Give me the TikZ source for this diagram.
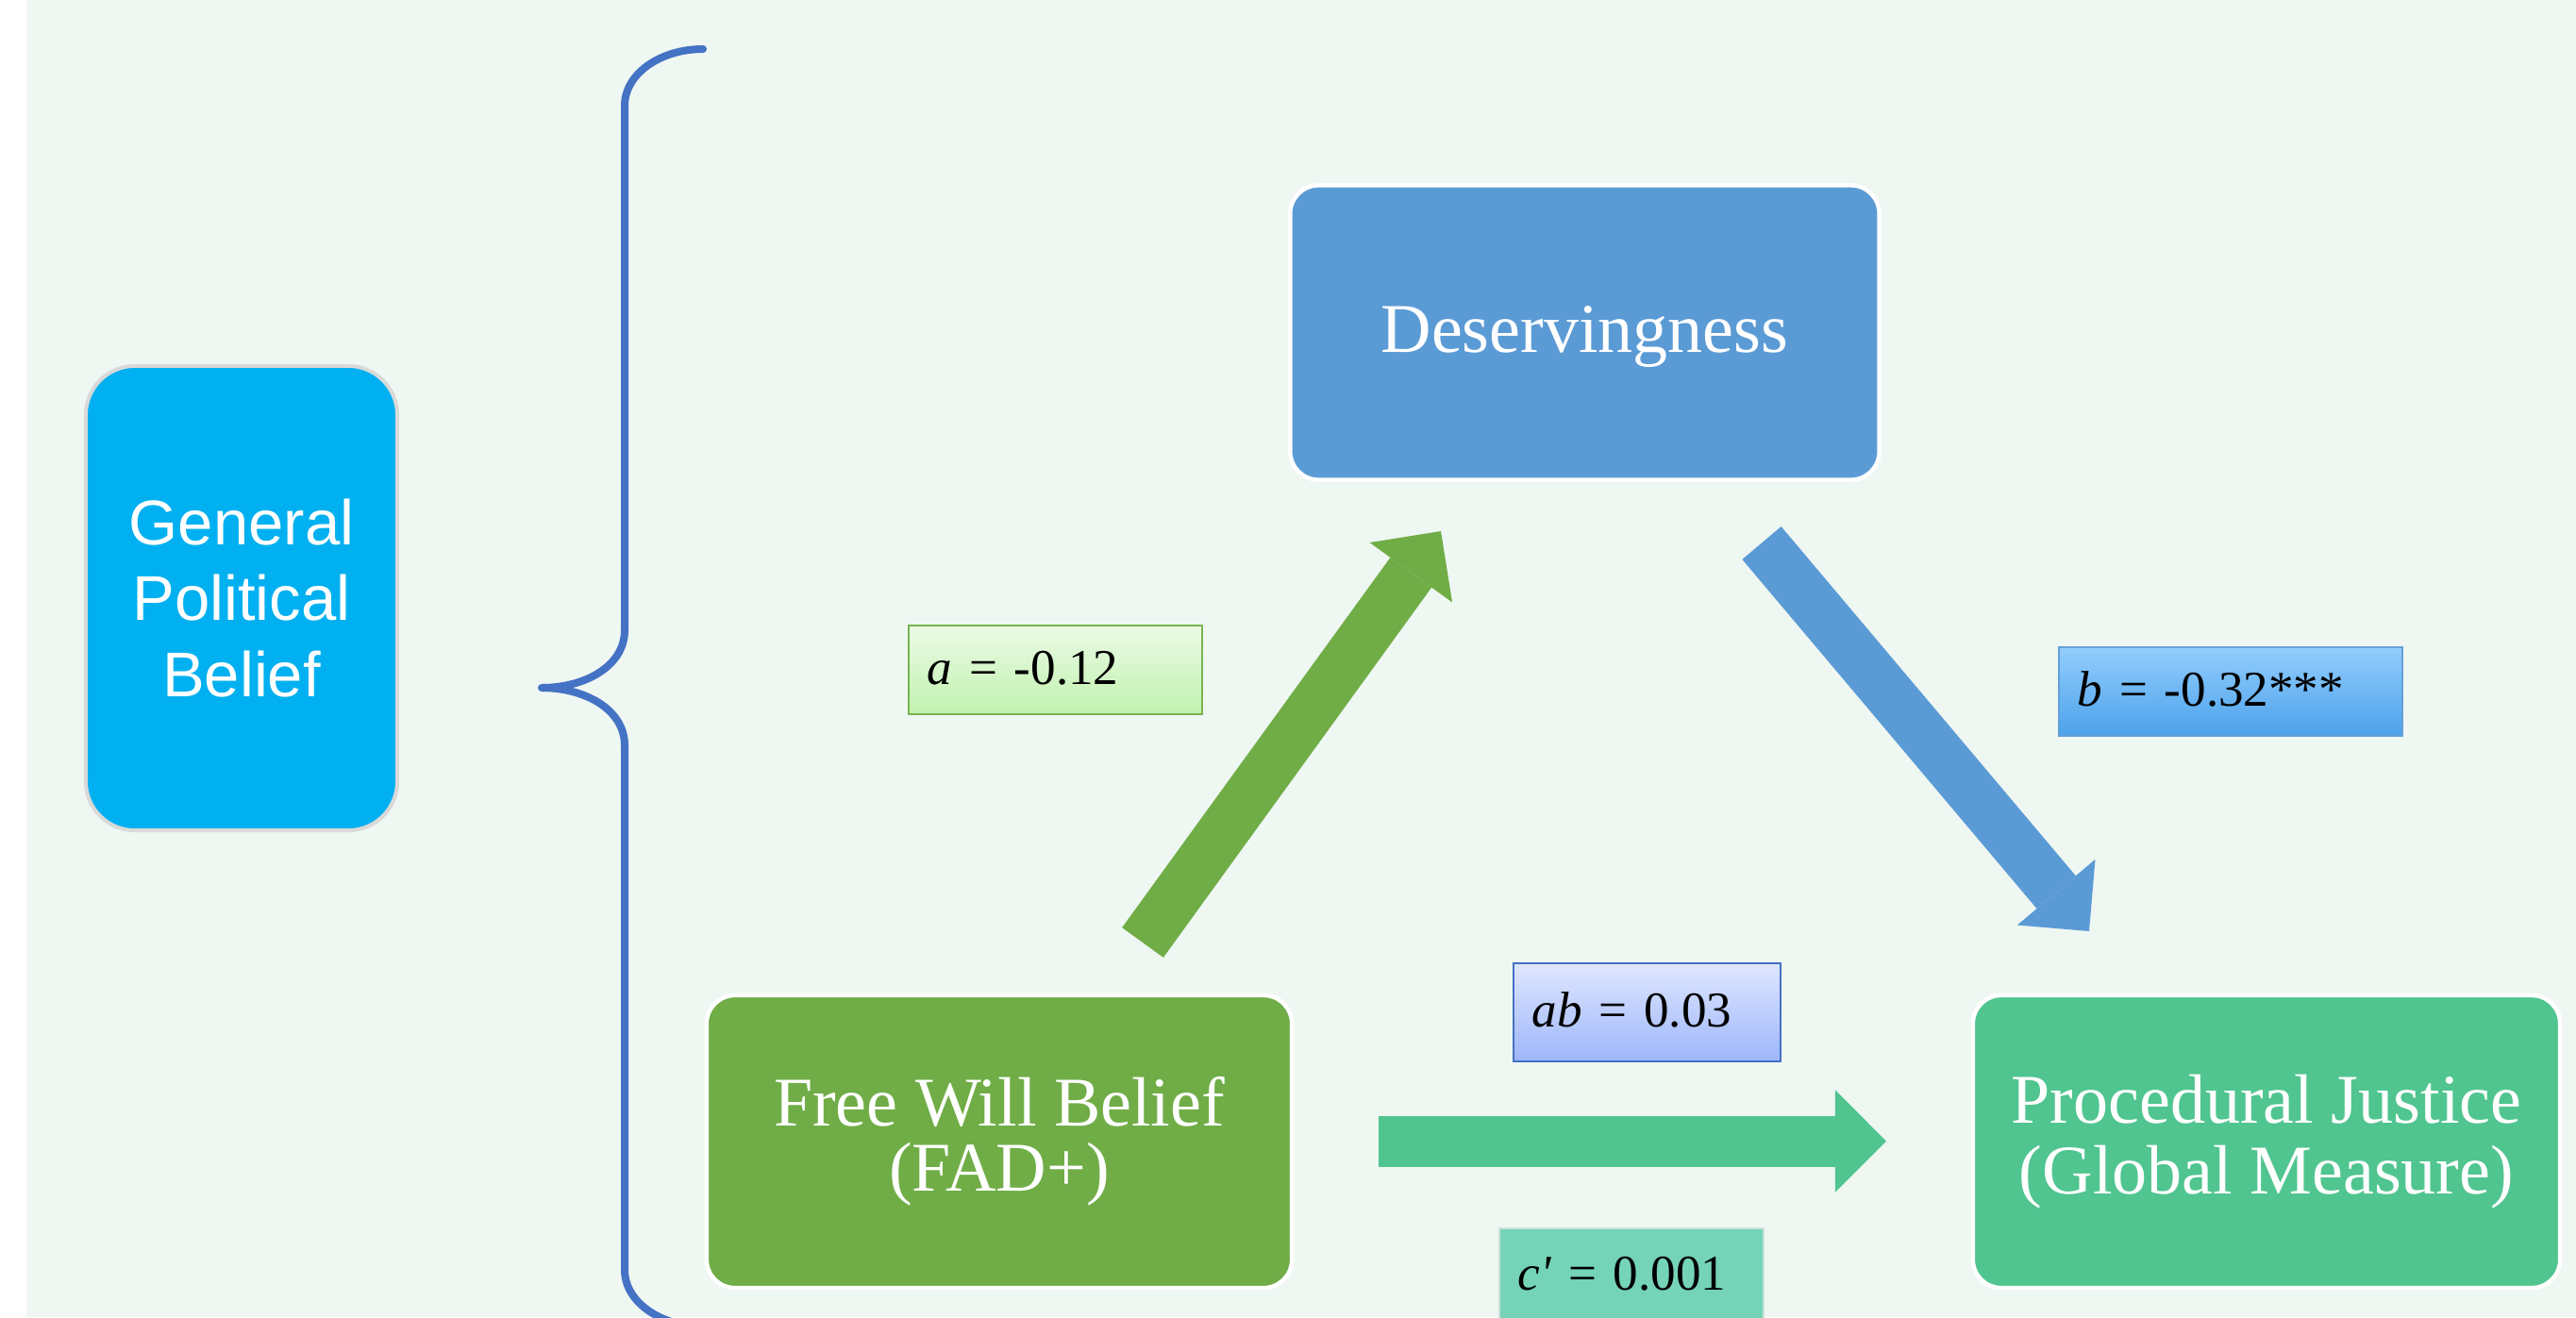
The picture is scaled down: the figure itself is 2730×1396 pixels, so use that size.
\documentclass[tikz,border=0pt]{standalone}
\usepackage{fontspec}
\setmainfont{Liberation Serif}
\newfontfamily\sansf{Liberation Sans}
\usetikzlibrary{arrows.meta}
\definecolor{bgc}{RGB}{239,247,242}
\definecolor{genfill}{RGB}{0,176,240}
\definecolor{genborder}{RGB}{217,217,217}
\definecolor{desfill}{RGB}{91,155,213}
\definecolor{fwfill}{RGB}{112,173,71}
\definecolor{pjfill}{RGB}{80,197,143}
\definecolor{bracec}{RGB}{68,114,196}
\definecolor{atop}{RGB}{236,250,230}
\definecolor{abot}{RGB}{192,242,174}
\definecolor{aborder}{RGB}{120,180,80}
\definecolor{btop}{RGB}{146,205,253}
\definecolor{bbot}{RGB}{76,162,235}
\definecolor{bborder}{RGB}{100,160,215}
\definecolor{abtop}{RGB}{222,230,255}
\definecolor{abbot}{RGB}{158,182,250}
\definecolor{abborder}{RGB}{68,114,196}
\definecolor{cfill}{RGB}{117,212,183}
\definecolor{cborder}{RGB}{200,225,215}
\begin{document}
\begin{tikzpicture}[x=0.01cm,y=-0.01cm,
  mainbox/.style={rectangle, rounded corners=0.3cm, draw=white, line width=0.045cm,
    text=white, align=center, inner sep=0pt},
  genbox/.style={rectangle, rounded corners=0.52cm, draw=genborder, line width=0.04cm,
    fill=genfill, text=white, align=center, inner sep=0pt,
    font={\sansf\fontsize{19.06pt}{22.76pt}\selectfont}},
  labelbox/.style={rectangle, line width=0.02cm, inner xsep=0.2cm, inner ysep=0pt,
    align=left, text height=0.37cm, text depth=0.07cm,
    font={\fontsize{15.1pt}{18pt}\selectfont}},
  fatarrow/.style={line width=0.54cm,
    -{Triangle[width=1.08cm,length=0.54cm,line width=0pt]}},
  bracestyle/.style={draw=bracec, line width=0.08cm, line cap=round, line join=round}
]
\useasboundingbox (0,0) rectangle (2730,1396);
\clip (0,0) rectangle (2730,1396);
\fill[white] (0,0) rectangle (2730,1396);
\fill[bgc] (28,0) rectangle (2730,1396);

% brace
\draw[bracestyle] (745,52) .. controls (700,52) and (662,78) .. (662,112)
  -- (662,668) .. controls (662,706) and (620,729) .. (574,729)
  .. controls (620,729) and (662,752) .. (662,790)
  -- (662,1346) .. controls (662,1380) and (700,1406) .. (745,1406);

% main nodes
\node[genbox, minimum width=3.30cm, minimum height=4.92cm] (gen) at (256,634)
  {General\\Political\\Belief};
\node[mainbox, fill=desfill, minimum width=6.24cm, minimum height=3.12cm,
  text height=0.52cm, text depth=0.10cm,
  font={\fontsize{21.05pt}{21.3pt}\selectfont}] (des) at (1679.5,352.5) {Deservingness};
\node[mainbox, fill=fwfill, minimum width=6.20cm, minimum height=3.10cm,
  font={\fontsize{21.05pt}{19.6pt}\selectfont}] (fwb) at (1059,1210)
  {Free Will Belief\\(FAD+)};
\node[mainbox, fill=pjfill, minimum width=6.22cm, minimum height=3.10cm,
  font={\fontsize{21.05pt}{21.34pt}\selectfont}] (pj) at (2402,1210)
  {Procedural Justice\\(Global Measure)};

% arrow end points
\coordinate (atail) at (1211,999);
\coordinate (ahead) at (1527,563);
\coordinate (btail) at (1867,575.5);
\coordinate (bhead) at (2214,987);
\coordinate (ctail) at (1461,1209.5);
\coordinate (chead) at (1999,1209.5);

\draw[fatarrow, fwfill] (atail) -- (ahead);
\draw[fatarrow, desfill] (btail) -- (bhead);
\draw[fatarrow, pjfill] (ctail) -- (chead);

% labels
\node[labelbox, draw=aborder, top color=atop, bottom color=abot,
  minimum width=3.11cm, minimum height=0.94cm, text width=2.71cm] (la) at (1118.5,710)
  {\textit{a} = -0.12};
\node[labelbox, draw=bborder, top color=btop, bottom color=bbot,
  minimum width=3.64cm, minimum height=0.94cm, text width=3.24cm] (lb) at (2364,733)
  {\textit{b} = -0.32***};
\node[labelbox, draw=abborder, top color=abtop, bottom color=abbot,
  minimum width=2.83cm, minimum height=1.03cm, text width=2.43cm] (lab) at (1745.5,1073)
  {\textit{ab} = 0.03};
\node[labelbox, draw=cborder, fill=cfill,
  minimum width=2.78cm, minimum height=1.00cm, text width=2.40cm] (lc) at (1729,1352)
  {\textit{c\textquotesingle} = 0.001};
\end{tikzpicture}
\end{document}
